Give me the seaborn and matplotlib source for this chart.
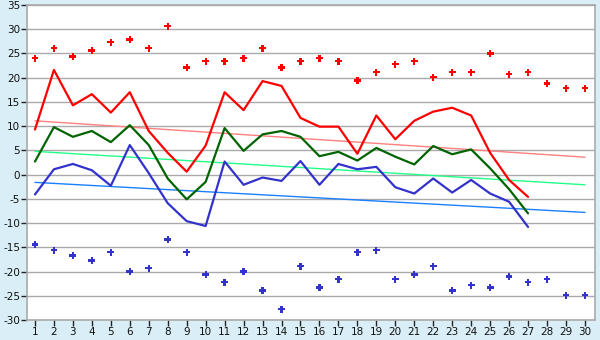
import numpy as np
import pandas as pd
import matplotlib
matplotlib.use("Agg")
import matplotlib.pyplot as plt
import seaborn as sns

days_all = list(range(1, 31))
days_line = list(range(1, 28))

max_points = [24.0, 26.1, 24.4, 25.6, 27.3, 27.9, 26.1, 30.6, 22.1, 23.4,
              23.4, 24.0, 26.1, 22.1, 23.4, 24.0, 23.4, 19.4, 21.1, 22.8,
              23.4, 20.1, 21.1, 21.1, 25.0, 20.7, 21.1, 18.8, 17.8, 17.8]
min_points = [-14.4, -15.6, -16.7, -17.7, -16.0, -20.0, -19.3, -13.4, -16.0, -20.6,
              -22.2, -20.0, -23.9, -27.8, -18.9, -23.3, -21.6, -16.0, -15.6, -21.6,
              -20.6, -18.9, -23.9, -22.8, -23.3, -21.0, -22.2, -21.6, -24.9, -24.9]

tmax = [9.3, 21.6, 14.3, 16.6, 12.8, 17.0, 9.0, 4.5, 0.6, 6.0,
        17.0, 13.3, 19.3, 18.3, 11.7, 9.9, 9.9, 4.3, 12.2, 7.3,
        11.1, 13.0, 13.8, 12.2, 4.5, -1.1, -4.6]
tmean = [2.7, 9.8, 7.8, 9.0, 6.7, 10.2, 6.1, -0.8, -5.1, -1.5,
         9.6, 4.9, 8.3, 9.0, 7.8, 3.8, 4.7, 2.9, 5.5, 3.7,
         2.1, 5.9, 4.2, 5.2, 1.3, -3.0, -8.0]
tmin = [-4.1, 1.1, 2.2, 0.9, -2.3, 6.1, 0.3, -5.9, -9.6, -10.6,
        2.7, -2.1, -0.6, -1.3, 2.8, -2.1, 2.2, 1.1, 1.6, -2.6,
        -3.9, -0.8, -3.7, -1.1, -3.9, -5.6, -10.8]

trend_days = [1, 30]
trend_max = [11.1, 3.6]
trend_mean = [4.8, -2.1]
trend_min = [-1.6, -7.8]

ytick_vals = list(range(-30, 36, 5))

bg = "#d9eef6"
sns.set_theme(style="white")
plt.rcParams["font.family"] = ["DejaVu Sans"]

fig = plt.figure(figsize=(6, 3.4), dpi=100, facecolor=bg)
ax = fig.add_axes([27/600, 20/340, 568/600, 315/340])
ax.set_facecolor("white")

for y in ytick_vals:
    ax.axhline(y, color="#aaaaaa", lw=1.0, zorder=0)

sns.lineplot(x=trend_days, y=trend_max, color="#ff8080", lw=1.0, ax=ax)
sns.lineplot(x=trend_days, y=trend_mean, color="#22ff88", lw=1.0, ax=ax)
sns.lineplot(x=trend_days, y=trend_min, color="#1a80ff", lw=1.0, ax=ax)

sns.lineplot(x=days_line, y=tmax, color="#ff0000", lw=1.6, ax=ax)
sns.lineplot(x=days_line, y=tmean, color="#006400", lw=1.6, ax=ax)
sns.lineplot(x=days_line, y=tmin, color="#3333cc", lw=1.6, ax=ax)

sns.scatterplot(x=days_all, y=max_points, color="#ff0000", marker="P", s=24,
                edgecolor="none", ax=ax, zorder=5)
sns.scatterplot(x=days_all, y=min_points, color="#3333cc", marker="P", s=24,
                edgecolor="none", ax=ax, zorder=5)

ax.set_xlim(0.58, 30.53)
ax.set_ylim(-30, 35)
ax.set_xticks(days_all)
ax.set_xticklabels([str(d) for d in days_all])
ax.set_yticks(ytick_vals)
ax.set_yticklabels([str(v) for v in ytick_vals])
ax.tick_params(axis="both", which="both", length=4, width=1, color="#222222",
               labelsize=7.5, labelcolor="#111111", direction="out", pad=1,
               bottom=True, left=True)
for s in ax.spines.values():
    s.set_color("#aaaaaa")
    s.set_linewidth(1.2)
ax.set_xlabel("")
ax.set_ylabel("")

fig.savefig("out.png", dpi=100, facecolor=bg)
